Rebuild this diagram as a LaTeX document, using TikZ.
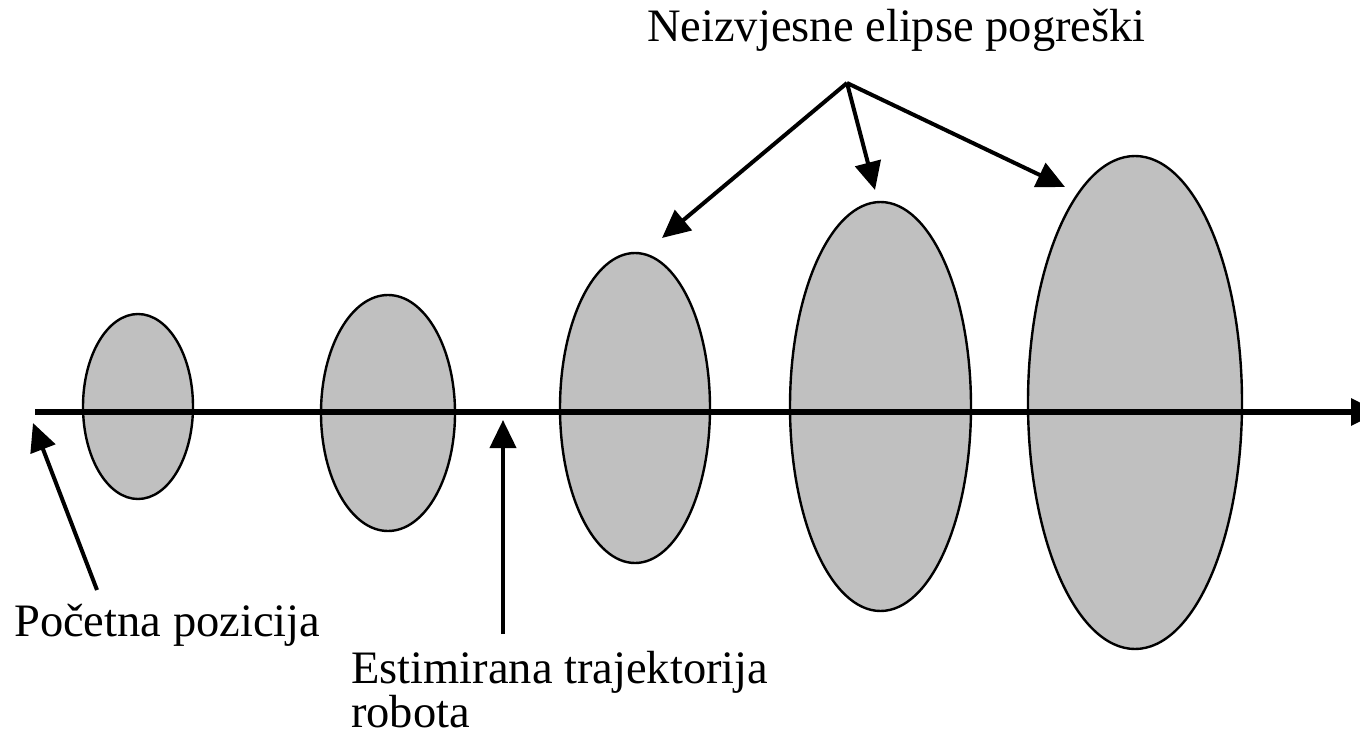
\documentclass[tikz,border=0pt]{standalone}
\usepackage{fontspec}
\setmainfont{Liberation Serif}
\usetikzlibrary{arrows.meta}
\definecolor{gray75}{RGB}{192,192,192}
\tikzset{
  blob/.style={draw=black, fill=gray75, line width=2.4pt},
  lbl/.style={inner sep=0pt, anchor=base west, font=\fontsize{46.5}{50}\selectfont},
  ptr/.style={line width=4pt, -{Triangle[length=28pt,width=26pt]}},
  axis/.style={line width=6pt, -{Triangle[length=28pt,width=26pt]}}
}
\begin{document}
\begin{tikzpicture}[x=1pt, y=-1pt]
\useasboundingbox (0,0) rectangle (1360,738);
% ellipses
\path[blob] (138,406.5) ellipse [x radius=55, y radius=92.5];
\path[blob] (388,413) ellipse [x radius=67, y radius=118];
\path[blob] (635,408) ellipse [x radius=75, y radius=155];
\path[blob] (880.5,406.5) ellipse [x radius=90.5, y radius=204.5];
\path[blob] (1135,402.5) ellipse [x radius=107, y radius=246.5];
% trajectory
\coordinate (ax0) at (35,412);
\coordinate (ax1) at (1379,412);
\draw[axis] (ax0) -- (ax1);
% labels
\node[lbl] (title) at (647,42) {Neizvjesne elipse pogreški};
\node[lbl] (start) at (14,636) {Početna pozicija};
\node[lbl] (est1) at (351,683) {Estimirana trajektorija};
\node[lbl] (est2) at (351,727) {robota};
% pointer coordinates
\coordinate (fan) at (847,83);
\coordinate (t3) at (662,238);
\coordinate (t4) at (875,190);
\coordinate (t5) at (1065,187);
\coordinate (s0) at (97,590);
\coordinate (s1) at (33,423);
\coordinate (e0) at (503,634);
\coordinate (e1) at (503,420);
\draw[ptr] (fan) -- (t3);
\draw[ptr] (fan) -- (t4);
\draw[ptr] (fan) -- (t5);
\draw[ptr] (s0) -- (s1);
\draw[ptr] (e0) -- (e1);
\end{tikzpicture}
\end{document}
